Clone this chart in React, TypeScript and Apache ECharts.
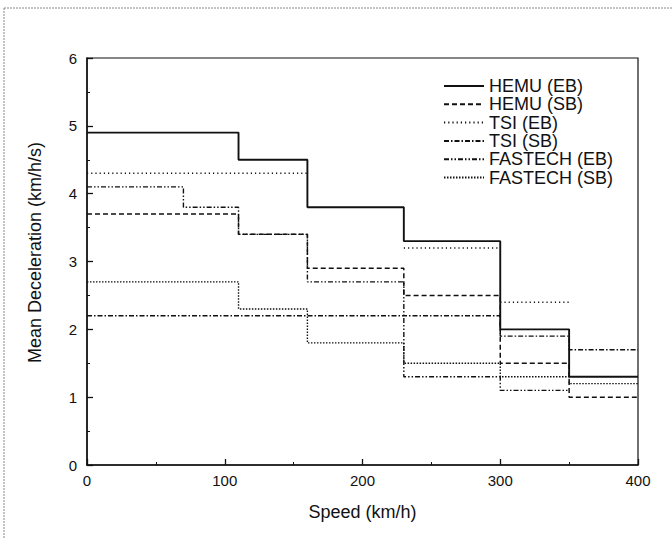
import React, { useEffect, useRef } from "react";
import * as echarts from "echarts";

// Speed break points (km/h) and mean deceleration values (km/h/s)
const hemuEbEdges = [0, 110, 160, 230, 300, 350, 400];
const hemuEbValues = [4.9, 4.5, 3.8, 3.3, 2.0, 1.3];

const hemuSbEdges = [0, 110, 160, 230, 300, 350, 400];
const hemuSbValues = [3.7, 3.4, 2.9, 2.5, 1.5, 1.0];

// TSI (EB) is drawn as separate segments: [start, end, value]
const tsiEbStarts = [0, 230, 300];
const tsiEbEnds = [160, 300, 350];
const tsiEbValues = [4.3, 3.2, 2.4];

const tsiSbEdges = [0, 300, 350, 400];
const tsiSbValues = [2.2, 1.9, 1.7];

const fastechEbEdges = [0, 70, 110, 160, 230, 300, 350];
const fastechEbValues = [4.1, 3.8, 3.4, 2.7, 1.3, 1.1];

const fastechSbEdges = [0, 110, 160, 230, 300, 350, 400];
const fastechSbValues = [2.7, 2.3, 1.8, 1.5, 1.3, 1.2];

const seriesNames = [
  "HEMU (EB)",
  "HEMU (SB)",
  "TSI (EB)",
  "TSI (SB)",
  "FASTECH (EB)",
  "FASTECH (SB)",
];

const xTicks = [0, 100, 200, 300, 400];
const yTicks = [0, 1, 2, 3, 4, 5, 6];

function stepData(edges: number[], values: number[]) {
  const pts: any[] = [];
  values.forEach((v, i) => {
    pts.push([edges[i], v]);
  });
  pts.push([edges[edges.length - 1], values[values.length - 1]]);
  return pts;
}

function segmentData(starts: number[], ends: number[], values: number[]) {
  const pts: any[] = [];
  values.forEach((v, i) => {
    if (i > 0) pts.push("-");
    pts.push([starts[i], v]);
    pts.push([ends[i], v]);
  });
  return pts;
}

const FONT = "'Liberation Sans', Arial, Helvetica, sans-serif";
const INK = "#111";

export default function App() {
  const ref = useRef<HTMLDivElement>(null);

  useEffect(() => {
    if (!ref.current) return;
    const chart = echarts.init(ref.current, undefined, { renderer: "svg" });

    const styles = [
      { type: "solid", width: 1.9 },
      { type: [5, 3], width: 1.5 },
      { type: [1.2, 3], width: 1.4 },
      { type: [5, 2, 1.5, 2], width: 1.4 },
      { type: [5, 2, 1.5, 2, 1.5, 2], width: 1.4 },
      { type: [1.5, 1.5], width: 1.4 },
    ];

    const datas = [
      { data: stepData(hemuEbEdges, hemuEbValues), step: "end" },
      { data: stepData(hemuSbEdges, hemuSbValues), step: "end" },
      { data: segmentData(tsiEbStarts, tsiEbEnds, tsiEbValues), step: false },
      { data: stepData(tsiSbEdges, tsiSbValues), step: "end" },
      { data: stepData(fastechEbEdges, fastechEbValues), step: "end" },
      { data: stepData(fastechSbEdges, fastechSbValues), step: "end" },
    ];

    const series = seriesNames.map((name, i) => ({
      name,
      type: "line",
      step: datas[i].step,
      data: datas[i].data,
      symbol: "none",
      connectNulls: false,
      lineStyle: { color: INK, width: styles[i].width, type: styles[i].type as any },
      itemStyle: { color: INK },
      z: 10 - i,
    }));

    const rowCenters = [86, 104.3, 122.6, 141, 159.2, 177.5];
    const legends = seriesNames.map((name, i) => ({
      data: [name],
      left: 443,
      top: rowCenters[i] - 9,
      padding: 0,
      orient: "horizontal",
      itemWidth: 40,
      itemHeight: 18,
      selectedMode: false,
      itemStyle: { opacity: 0 },
      textStyle: { fontFamily: FONT, fontSize: 18, color: INK, lineHeight: 18 },
    }));

    chart.setOption({
      animation: false,
      backgroundColor: "#fff",
      grid: {
        left: 87,
        top: 58,
        width: 551,
        height: 407,
        show: true,
        borderColor: INK,
        borderWidth: 1.2,
        backgroundColor: "transparent",
      },
      legend: legends,
      xAxis: {
        type: "value",
        min: xTicks[0],
        max: xTicks[xTicks.length - 1],
        interval: 100,
        name: "Speed (km/h)",
        nameLocation: "middle",
        nameGap: 38,
        nameTextStyle: { fontFamily: FONT, fontSize: 18, color: INK },
        axisLine: { show: true, lineStyle: { color: INK, width: 1.5 } },
        axisTick: { show: true, inside: true, length: 6, lineStyle: { color: INK, width: 1.3 } },
        minorTick: { show: true, splitNumber: 2, length: 3, lineStyle: { color: INK, width: 1 } },
        splitLine: { show: false },
        axisLabel: { margin: 8, fontFamily: FONT, fontSize: 15, color: INK },
      },
      yAxis: {
        type: "value",
        min: yTicks[0],
        max: yTicks[yTicks.length - 1],
        interval: 1,
        name: "Mean Deceleration (km/h/s)",
        nameLocation: "middle",
        nameGap: 43,
        nameTextStyle: { fontFamily: FONT, fontSize: 18, color: INK, padding: [0, 0, 0, 18] },
        axisLine: { show: true, lineStyle: { color: INK, width: 1.5 } },
        axisTick: { show: true, inside: true, length: 6, lineStyle: { color: INK, width: 1.3 } },
        minorTick: { show: true, splitNumber: 2, length: 3, lineStyle: { color: INK, width: 1 } },
        splitLine: { show: false },
        axisLabel: { margin: 10, fontFamily: FONT, fontSize: 15, color: INK },
      },
      graphic: [
        {
          type: "line",
          shape: { x1: 4, y1: 8, x2: 4, y2: 538 },
          style: { stroke: "#888", lineWidth: 1, lineDash: [2, 1] },
        },
        {
          type: "line",
          shape: { x1: 4, y1: 8, x2: 672, y2: 8 },
          style: { stroke: "#888", lineWidth: 1, lineDash: [2, 1] },
        },
      ],
      series,
    });

    return () => chart.dispose();
  }, []);

  return (
    <div
      ref={ref}
      style={{ position: "fixed", left: 0, top: 0, width: 672, height: 538, background: "#fff" }}
    />
  );
}
